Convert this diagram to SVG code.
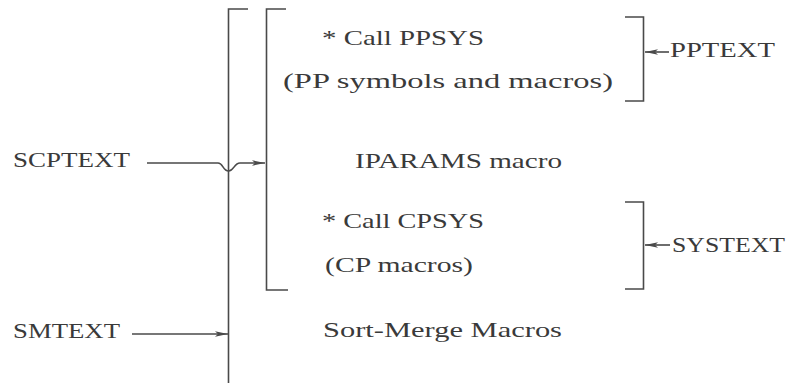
<svg xmlns="http://www.w3.org/2000/svg" width="790" height="383" viewBox="0 0 790 383">
<defs>
<marker id="ah" markerWidth="14" markerHeight="8" refX="13" refY="4" orient="auto" markerUnits="userSpaceOnUse">
<path d="M0,1.2 L13,4 L0,6.8 L3,4 Z" fill="#4a4a4a"/>
</marker>
</defs>
<style>
text{font-family:"Liberation Serif","DejaVu Serif",serif;font-size:21px;fill:#3a3a3a;}
.ln{fill:none;stroke:#4a4a4a;stroke-width:1.6;}
</style>
<rect width="790" height="383" fill="#ffffff"/>
<g id="outer-bracket"><path class="ln" d="M248,9 H228.5 V383"/></g>
<g id="inner-bracket"><path class="ln" d="M286,9 H266.5 V290 H288"/></g>
<g id="pp-bracket"><path class="ln" d="M625,17 H643.5 V101 H625"/></g>
<g id="sys-bracket"><path class="ln" d="M625,202 H643.5 V289 H625"/></g>
<g id="SCPTEXT"><text x="13" y="167" textLength="117" lengthAdjust="spacingAndGlyphs">SCPTEXT</text></g>
<g id="SMTEXT"><text x="13" y="338" textLength="107" lengthAdjust="spacingAndGlyphs">SMTEXT</text></g>
<g id="PPTEXT"><text x="670" y="57" textLength="105" lengthAdjust="spacingAndGlyphs">PPTEXT</text></g>
<g id="SYSTEXT"><text x="672" y="252" textLength="113" lengthAdjust="spacingAndGlyphs">SYSTEXT</text></g>
<g id="call-ppsys"><text x="322" y="45" textLength="162" lengthAdjust="spacingAndGlyphs">* Call PPSYS</text></g>
<g id="pp-symbols"><text x="283" y="88" textLength="330" lengthAdjust="spacingAndGlyphs">(PP symbols and macros)</text></g>
<g id="iparams"><text x="355" y="168" textLength="207" lengthAdjust="spacingAndGlyphs">IPARAMS macro</text></g>
<g id="call-cpsys"><text x="322" y="228" textLength="162" lengthAdjust="spacingAndGlyphs">* Call CPSYS</text></g>
<g id="cp-macros"><text x="325" y="272" textLength="148" lengthAdjust="spacingAndGlyphs">(CP macros)</text></g>
<g id="sort-merge"><text x="323" y="337" textLength="239" lengthAdjust="spacingAndGlyphs">Sort-Merge Macros</text></g>
<g id="connectors">
<path class="ln" d="M147,163 H218 C223,163 223,171 228.5,171 C234,171 234,163 240,163 H265" marker-end="url(#ah)"/>
<path class="ln" d="M132,334 H228" marker-end="url(#ah)"/>
<path class="ln" d="M669,52 H645" marker-end="url(#ah)"/>
<path class="ln" d="M670,245 H645" marker-end="url(#ah)"/>
</g>
</svg>
